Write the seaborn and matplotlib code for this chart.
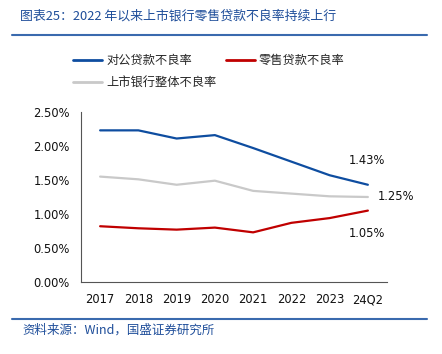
import matplotlib
matplotlib.use("Agg")
import matplotlib.pyplot as plt
import seaborn as sns
import pandas as pd
from matplotlib.lines import Line2D
from matplotlib.ticker import FuncFormatter

sns.set_theme(style="white")
plt.rcParams['font.family'] = ['DejaVu Sans', 'Noto Sans CJK SC']

categories = ["2017", "2018", "2019", "2020", "2021", "2022", "2023", "24Q2"]
corporate = [2.23, 2.23, 2.11, 2.16, 1.97, 1.77, 1.57, 1.43]
retail = [0.82, 0.79, 0.77, 0.80, 0.73, 0.87, 0.94, 1.05]
overall = [1.55, 1.51, 1.43, 1.49, 1.34, 1.30, 1.26, 1.25]
series_names = ["对公贷款不良率", "零售贷款不良率", "上市银行整体不良率"]
y_ticks = [0.0, 0.5, 1.0, 1.5, 2.0, 2.5]

colors = {"对公贷款不良率": "#0E4DA0", "零售贷款不良率": "#C00000", "上市银行整体不良率": "#C9C9C9"}

rows = []
for name, vals in zip(series_names, [corporate, retail, overall]):
    for i, (c, v) in enumerate(zip(categories, vals)):
        rows.append({"x": i, "cat": c, "val": v, "series": name})
df = pd.DataFrame(rows)

fig = plt.figure(figsize=(4.42, 3.54), dpi=100)
ax = fig.add_axes([81/442, 1-282/354, (387-81)/442, (282-112)/354])

sns.lineplot(data=df, x="x", y="val", hue="series", hue_order=series_names,
             palette=colors, linewidth=1.6, ax=ax, legend=False, zorder=3)

ax.set_xlim(-0.5, len(categories) - 0.5)
ax.set_ylim(0, 2.5)
ax.set_yticks(y_ticks)
ax.yaxis.set_major_formatter(FuncFormatter(lambda v, p: f"{v:.2f}%"))
ax.set_xticks(range(len(categories)))
ax.set_xticklabels(categories)
ax.set_xticks([i - 0.5 for i in range(len(categories) + 1)], minor=True)
ax.tick_params(axis="x", which="major", length=0, pad=8, labelsize=8.3, colors="#111111")
ax.tick_params(axis="x", which="minor", length=4, width=0.8, color="#555555", direction="out")
ax.tick_params(axis="y", which="major", length=5, width=0.8, color="#555555", direction="out",
               labelsize=8.3, labelcolor="#111111", pad=3)
ax.set_xlabel("")
ax.set_ylabel("")
for s in ["top", "right"]:
    ax.spines[s].set_visible(False)
for s in ["left", "bottom"]:
    ax.spines[s].set_color("#555555")
    ax.spines[s].set_linewidth(0.8)
ax.grid(False)

last = len(categories) - 1
ax.annotate(f"{corporate[-1]:.2f}%", (last, corporate[-1]), xytext=(-1, 13),
            textcoords="offset points", ha="center", va="bottom", fontsize=8.3, color="#111111")
ax.annotate(f"{overall[-1]:.2f}%", (last, overall[-1]), xytext=(7, 0),
            textcoords="offset points", ha="left", va="center", fontsize=8.3, color="#111111")
ax.annotate(f"{retail[-1]:.2f}%", (last, retail[-1]), xytext=(-1, -12),
            textcoords="offset points", ha="center", va="top", fontsize=8.3, color="#111111")

# legend
handles = [Line2D([0], [0], color=colors[n], lw=2) for n in series_names]
order = [0, 2, 1]
leg = fig.legend([handles[i] for i in order], [series_names[i] for i in order], ncol=2,
                 loc="upper left", bbox_to_anchor=(62/442, 1-43/354), frameon=False,
                 prop={"family": ["Noto Sans CJK SC"], "size": 8.8},
                 handlelength=2.4, handletextpad=0.3, columnspacing=0.8, labelspacing=0.75)

title_blue = "#1F4E9A"
fig.text(20/442, 1-16/354, "图表25：2022 年以来上市银行零售贷款不良率持续上行",
         fontsize=9.3, color=title_blue, style="italic", va="center", ha="left",
         family=["Noto Sans CJK SC", "DejaVu Sans"])
fig.add_artist(Line2D([12/442, 427/442], [1-35/354, 1-35/354], color="#3A6AAE", lw=1.5))
fig.add_artist(Line2D([12/442, 427/442], [1-319/354, 1-319/354], color="#3A6AAE", lw=1.5))
fig.text(22/442, 1-330/354, "资料来源：Wind，国盛证券研究所",
         fontsize=9, color=title_blue, style="italic", va="center", ha="left",
         family=["Noto Sans CJK SC", "DejaVu Sans"])

fig.savefig("out.png", dpi=100)
